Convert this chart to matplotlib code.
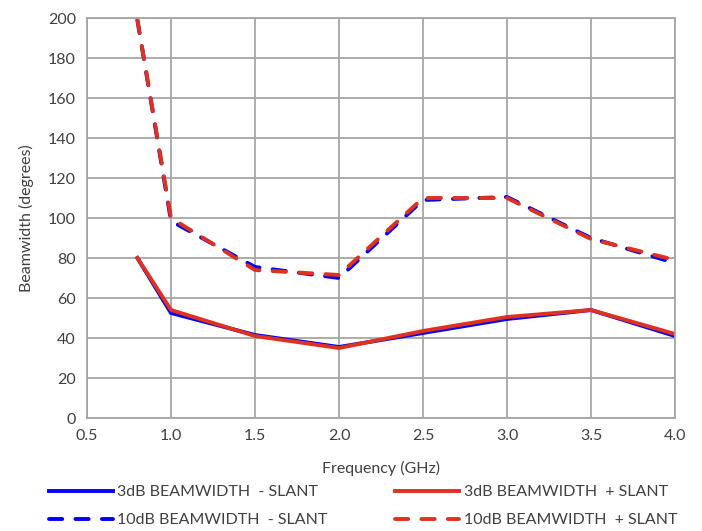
import matplotlib
matplotlib.use("Agg")
from matplotlib import pyplot as plt

freq = [0.8, 1.0, 1.5, 2.0, 2.5, 3.0, 3.5, 4.0]
bw3_minus = [80, 52.5, 41.5, 35.5, 42.5, 49.5, 54, 41]
bw3_plus = [80, 54, 41, 35, 43.5, 50.5, 54, 42]
bw10_minus = [199, 98.5, 75.5, 70, 109, 110.5, 90, 77.5]
bw10_plus = [199, 100, 74, 71.5, 110, 110, 89.5, 79]

plt.rcParams['font.family'] = ['Lato', 'DejaVu Sans']

fig = plt.figure(figsize=(7.02, 5.31), dpi=100)
ax = fig.add_axes([87 / 702, 1 - 418 / 531, 588 / 702, 400 / 531])

blue = '#0000ff'
red = '#e0301e'
lw = 2.8
dash = (0, (3.4, 3.4))
ax.plot(freq, bw3_minus, color=blue, lw=lw, label='3dB BEAMWIDTH  - SLANT')
ax.plot(freq, bw3_plus, color=red, lw=lw, label='3dB BEAMWIDTH  + SLANT')
ax.plot(freq, bw10_minus, color=blue, lw=lw, ls=dash, dash_capstyle='round',
        label='10dB BEAMWIDTH  - SLANT')
ax.plot(freq, bw10_plus, color=red, lw=lw, ls=dash, dash_capstyle='round',
        label='10dB BEAMWIDTH  + SLANT')

ax.set_xlim(0.5, 4.0)
ax.set_ylim(0, 200)
ax.set_xticks([0.5, 1.0, 1.5, 2.0, 2.5, 3.0, 3.5, 4.0])
ax.set_xticklabels(['0.5', '1.0', '1.5', '2.0', '2.5', '3.0', '3.5', '4.0'])
ax.set_yticks(range(0, 201, 20))
ax.grid(True, color='#a6a6a6', lw=1.3)
ax.set_axisbelow(True)
for s in ax.spines.values():
    s.set_color('#a6a6a6')
    s.set_linewidth(1.3)
ax.tick_params(length=0, labelsize=11.5, colors='#404040', pad=8)
ax.set_xlabel('Frequency (GHz)', fontsize=11.5, color='#404040', labelpad=13)
ax.set_ylabel('Beamwidth (degrees)', fontsize=11.5, color='#404040', labelpad=10)

handles, labels = ax.get_legend_handles_labels()
order = [0, 2, 1, 3]
leg = fig.legend([handles[i] for i in order], [labels[i] for i in order],
                 ncol=2, loc='lower center', bbox_to_anchor=(0.517, -0.02),
                 frameon=False, fontsize=11.5, handlelength=4.0,
                 handletextpad=0.3, columnspacing=4.2, labelspacing=0.85)
for t in leg.get_texts():
    t.set_color('#404040')

fig.savefig('out.png', dpi=100)
